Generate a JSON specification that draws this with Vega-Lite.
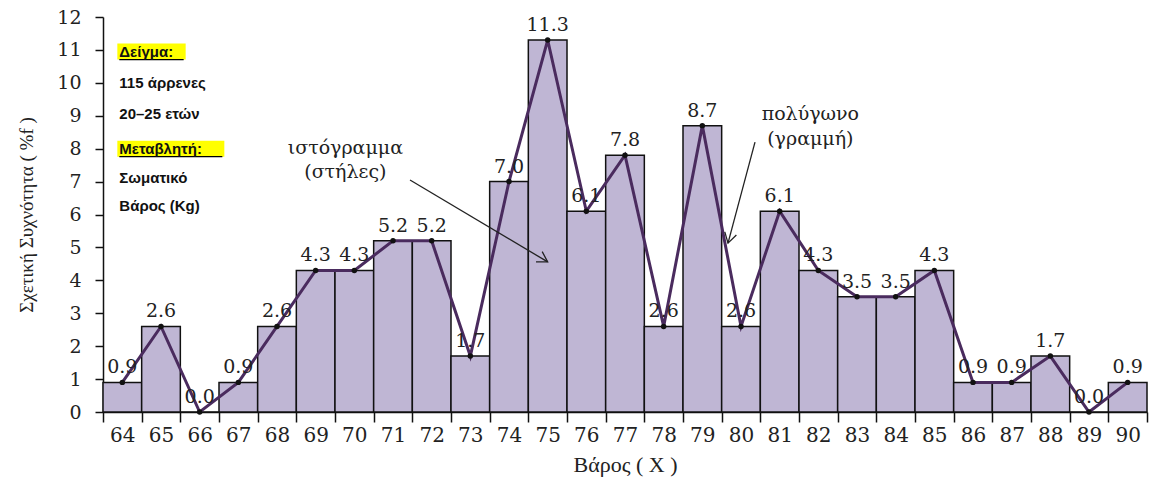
{
  "$schema": "https://vega.github.io/schema/vega-lite/v6.json",
  "width": 1044,
  "height": 395,
  "autosize": {"type": "none"},
  "padding": {"left": 103, "top": 17, "right": 4, "bottom": 73},
  "config": {"view": {"stroke": null}, "background": "white", "axisY": {"labelOverlap": false, "tickCount": 13}, "axisX": {"labelOverlap": false}},
  "datasets": {
    "freq": [
      {"x": "64", "y": 0.9}, {"x": "65", "y": 2.6}, {"x": "66", "y": 0.0},
      {"x": "67", "y": 0.9}, {"x": "68", "y": 2.6}, {"x": "69", "y": 4.3},
      {"x": "70", "y": 4.3}, {"x": "71", "y": 5.2}, {"x": "72", "y": 5.2},
      {"x": "73", "y": 1.7}, {"x": "74", "y": 7.0}, {"x": "75", "y": 11.3},
      {"x": "76", "y": 6.1}, {"x": "77", "y": 7.8}, {"x": "78", "y": 2.6},
      {"x": "79", "y": 8.7}, {"x": "80", "y": 2.6}, {"x": "81", "y": 6.1},
      {"x": "82", "y": 4.3}, {"x": "83", "y": 3.5}, {"x": "84", "y": 3.5},
      {"x": "85", "y": 4.3}, {"x": "86", "y": 0.9}, {"x": "87", "y": 0.9},
      {"x": "88", "y": 1.7}, {"x": "89", "y": 0.0}, {"x": "90", "y": 0.9}
    ],
    "notes": [
      {"x": "64", "y": 10.95, "t": "Δείγμα:"},
      {"x": "64", "y": 10.0, "t": "115 άρρενες"},
      {"x": "64", "y": 9.05, "t": "20–25 ετών"},
      {"x": "64", "y": 8.0, "t": "Μεταβλητή:"},
      {"x": "64", "y": 7.1, "t": "Σωματικό"},
      {"x": "64", "y": 6.25, "t": "Βάρος (Kg)"}
    ],
    "hl": [
      {"x": "64", "x2": "66", "y": 10.95},
      {"x": "64", "x2": "67", "y": 8.0}
    ],
    "ann1": [
      {"x": "70", "y": 8.02, "t": "ιστόγραμμα"},
      {"x": "70", "y": 7.28, "t": "(στήλες)"}
    ],
    "ann2": [
      {"x": "82", "y": 9.04, "t": "πολύγωνο"},
      {"x": "82", "y": 8.3, "t": "(γραμμή)"}
    ],
    "arrow1": [{"x": "71", "x2": "75", "y": 7.05, "y2": 4.56}],
    "arrow2": [{"x": "80", "x2": "80", "y": 8.2, "y2": 5.13}]
  },
  "layer": [
    {
      "data": {"name": "freq"},
      "mark": {"type": "bar", "fill": "#bfb6d4", "stroke": "#111111", "strokeWidth": 1.5},
      "encoding": {
        "x": {
          "field": "x", "type": "ordinal",
          "scale": {"domain": ["64","65","66","67","68","69","70","71","72","73","74","75","76","77","78","79","80","81","82","83","84","85","86","87","88","89","90"], "paddingInner": 0, "paddingOuter": 0},
          "axis": {
            "title": "Βάρος ( X )", "titleFont": "Liberation Serif", "titleFontSize": 22, "titleFontWeight": "normal", "titleColor": "#222222", "titlePadding": 9,
            "labelFont": "DejaVu Serif", "labelFontSize": 20, "labelColor": "#222222", "labelAngle": 0, "labelPadding": 3,
            "tickBand": "extent", "tickSize": 10, "tickColor": "#111111", "tickWidth": 1.5,
            "domainColor": "#111111", "domainWidth": 1.5, "grid": false
          }
        },
        "y": {
          "field": "y", "type": "quantitative",
          "scale": {"domain": [0, 12], "nice": false},
          "axis": {
            "title": "Σχετική Συχνότητα ( %f )", "titleFont": "Liberation Serif", "titleFontSize": 19, "titleFontWeight": "normal", "titleColor": "#222222", "titlePadding": 20,
            "values": [0,1,2,3,4,5,6,7,8,9,10,11,12], "tickCount": 13, "labelOverlap": false,
            "labelFont": "DejaVu Serif", "labelFontSize": 19, "labelColor": "#222222", "labelPadding": 14,
            "tickSize": 8, "tickColor": "#111111", "tickWidth": 1.5,
            "domainColor": "#111111", "domainWidth": 1.5, "grid": false
          }
        }
      }
    },
    {
      "data": {"name": "hl"},
      "mark": {"type": "rule", "color": "#ffff00", "strokeWidth": 16, "strokeCap": "butt", "xOffset": -5, "x2Offset": -14},
      "encoding": {
        "x": {"field": "x", "type": "ordinal"},
        "x2": {"field": "x2"},
        "y": {"field": "y", "type": "quantitative"}
      }
    },
    {
      "data": {"name": "hl"},
      "mark": {"type": "rule", "color": "#000000", "strokeWidth": 1.3, "strokeCap": "butt", "xOffset": -3, "x2Offset": -16, "yOffset": 8},
      "encoding": {
        "x": {"field": "x", "type": "ordinal"},
        "x2": {"field": "x2"},
        "y": {"field": "y", "type": "quantitative"}
      }
    },
    {
      "data": {"name": "freq"},
      "mark": {"type": "line", "color": "#4a2b5e", "strokeWidth": 3},
      "encoding": {
        "x": {"field": "x", "type": "ordinal"},
        "y": {"field": "y", "type": "quantitative"}
      }
    },
    {
      "data": {"name": "freq"},
      "mark": {"type": "point", "filled": true, "color": "#111111", "size": 30, "opacity": 1},
      "encoding": {
        "x": {"field": "x", "type": "ordinal"},
        "y": {"field": "y", "type": "quantitative"}
      }
    },
    {
      "data": {"name": "freq"},
      "mark": {"type": "text", "font": "DejaVu Serif", "fontSize": 19, "color": "#222222", "dy": -15},
      "encoding": {
        "x": {"field": "x", "type": "ordinal"},
        "y": {"field": "y", "type": "quantitative"},
        "text": {"field": "y", "type": "quantitative", "format": ".1f"}
      }
    },
    {
      "data": {"name": "notes"},
      "mark": {"type": "text", "font": "Liberation Sans", "fontSize": 15, "fontWeight": "bold", "color": "#111111", "align": "left", "baseline": "middle", "dx": -3},
      "encoding": {
        "x": {"field": "x", "type": "ordinal"},
        "y": {"field": "y", "type": "quantitative"},
        "text": {"field": "t"}
      }
    },
    {
      "data": {"name": "ann1"},
      "mark": {"type": "text", "font": "DejaVu Serif", "fontSize": 19, "color": "#222222", "align": "center", "baseline": "middle", "dx": -9},
      "encoding": {
        "x": {"field": "x", "type": "ordinal"},
        "y": {"field": "y", "type": "quantitative"},
        "text": {"field": "t"}
      }
    },
    {
      "data": {"name": "ann2"},
      "mark": {"type": "text", "font": "DejaVu Serif", "fontSize": 19, "color": "#222222", "align": "center", "baseline": "middle", "dx": -8},
      "encoding": {
        "x": {"field": "x", "type": "ordinal"},
        "y": {"field": "y", "type": "quantitative"},
        "text": {"field": "t"}
      }
    },
    {
      "data": {"name": "arrow1"},
      "mark": {"type": "rule", "color": "#222222", "strokeWidth": 1.3, "xOffset": 17, "x2Offset": 0},
      "encoding": {
        "x": {"field": "x", "type": "ordinal"},
        "x2": {"field": "x2"},
        "y": {"field": "y", "type": "quantitative"},
        "y2": {"field": "y2"}
      }
    },
    {
      "data": {"name": "arrow1"},
      "mark": {"type": "point", "shape": "M-1,-0.6L0,0L-1,0.6", "filled": false, "stroke": "#222222", "strokeWidth": 1.3, "size": 400, "angle": 31, "opacity": 1},
      "encoding": {
        "x": {"field": "x2", "type": "ordinal"},
        "y": {"field": "y2", "type": "quantitative"}
      }
    },
    {
      "data": {"name": "arrow2"},
      "mark": {"type": "rule", "color": "#222222", "strokeWidth": 1.3, "xOffset": 14, "x2Offset": -13},
      "encoding": {
        "x": {"field": "x", "type": "ordinal"},
        "x2": {"field": "x2"},
        "y": {"field": "y", "type": "quantitative"},
        "y2": {"field": "y2"}
      }
    },
    {
      "data": {"name": "arrow2"},
      "mark": {"type": "point", "shape": "M-1,-0.6L0,0L-1,0.6", "filled": false, "stroke": "#222222", "strokeWidth": 1.3, "size": 400, "angle": 105, "opacity": 1, "xOffset": -13},
      "encoding": {
        "x": {"field": "x2", "type": "ordinal"},
        "y": {"field": "y2", "type": "quantitative"}
      }
    }
  ]
}
